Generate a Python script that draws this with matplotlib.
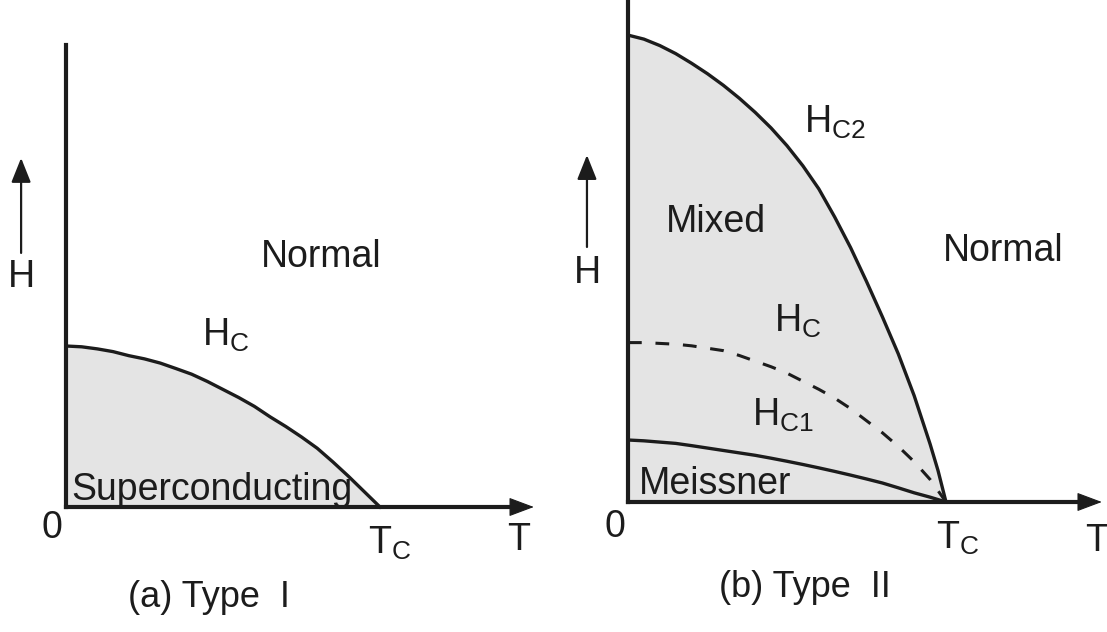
''' Phase diagrams of type I and type II superconductors (H vs T). '''

import matplotlib
matplotlib.use('Agg')
import matplotlib.pyplot as plt

# Values. T in units of Tc, H in units of Hc(0)
t_grid = [0.0, 0.05, 0.1, 0.15, 0.2, 0.25, 0.3, 0.35, 0.4, 0.45, 0.5,
          0.55, 0.6, 0.65, 0.7, 0.75, 0.8, 0.85, 0.9, 0.95, 1.0]

# (a) type I
hc_type1 = [1.0, 0.995, 0.982, 0.965, 0.94, 0.92, 0.894, 0.86, 0.825, 0.78, 0.73,
            0.68, 0.625, 0.56, 0.50, 0.435, 0.365, 0.28, 0.19, 0.095, 0.0]

# (b) type II
t_hc2 = [0.0, 0.05, 0.1, 0.15, 0.2, 0.25, 0.3, 0.35, 0.4, 0.45, 0.5,
         0.55, 0.6, 0.65, 0.7, 0.75, 0.8, 0.85, 0.9, 0.95, 0.975, 1.0]
hc2 = [2.90, 2.875, 2.835, 2.785, 2.725, 2.66, 2.588, 2.508, 2.42, 2.323, 2.213,
       2.088, 1.945, 1.77, 1.58, 1.37, 1.15, 0.92, 0.66, 0.36, 0.195, 0.0]
hc_type2 = [0.99, 0.99, 0.985, 0.98, 0.97, 0.955, 0.94, 0.91, 0.875, 0.84, 0.80,
            0.75, 0.70, 0.645, 0.58, 0.505, 0.43, 0.345, 0.25, 0.14, 0.0]
hc1 = [0.385, 0.38, 0.372, 0.364, 0.35, 0.335, 0.32, 0.305, 0.29, 0.272, 0.253,
       0.233, 0.212, 0.19, 0.167, 0.143, 0.118, 0.088, 0.057, 0.03, 0.0]

INK = '#1c1c1c'
FILL = '#e4e4e4'
FS = 27

plt.rcParams['font.family'] = ['Liberation Sans', 'DejaVu Sans']
plt.rcParams['mathtext.fontset'] = 'custom'
plt.rcParams['mathtext.rm'] = 'Liberation Sans'
plt.rcParams['mathtext.it'] = 'Liberation Sans:italic'
plt.rcParams['lines.solid_joinstyle'] = 'round'


def draw_axes(ax, h_top, h_arrow_x, h_arrow_y0, h_arrow_y1, h_label_y):
    # T axis with arrow head
    t_end = 1.49
    ax.plot([0, t_end - 0.03], [0, 0], color=INK, lw=3, solid_capstyle='projecting', zorder=5)
    ax.annotate('', xy=(t_end, 0), xytext=(t_end - 0.06, 0),
                arrowprops=dict(arrowstyle='-|>,head_length=0.8,head_width=0.3',
                                mutation_scale=20, lw=0.8, color=INK,
                                shrinkA=0, shrinkB=0), zorder=6)
    # H axis
    ax.plot([0, 0], [0, h_top], color=INK, lw=3, solid_capstyle='projecting', zorder=5)
    # little H arrow on the side
    ax.annotate('', xy=(h_arrow_x, h_arrow_y1), xytext=(h_arrow_x, h_arrow_y0),
                arrowprops=dict(arrowstyle='-|>,head_length=0.75,head_width=0.3',
                                mutation_scale=20, lw=1.6, color=INK,
                                shrinkA=0, shrinkB=0))
    ax.text(h_arrow_x, h_label_y, 'H', fontsize=FS, color=INK, ha='center', va='center')


def plot_type1(ax):
    ax.set_xlim(-0.2102, 1.5510)
    ax.set_ylim(-0.7764, 3.1491)
    ax.axis('off')
    ax.fill_between(t_grid, hc_type1, 0, color=FILL, lw=0, zorder=1)
    ax.plot(t_grid, hc_type1, color=INK, lw=2.4, zorder=3)
    draw_axes(ax, 2.87, -0.143, 1.578, 2.168, 1.43)

    ax.text(0.812, 1.553, 'Normal', fontsize=FS, color=INK, ha='center', va='center')
    ax.text(0.433, 1.0, r'H$_{\mathrm{C}}$', fontsize=FS, color=INK, ha='left', va='baseline')
    ax.text(0.016, 0.043, 'Superconducting', fontsize=FS, color=INK, ha='left',
            va='baseline', zorder=4)
    ax.text(-0.045, -0.13, '0', fontsize=FS, color=INK, ha='center', va='center')
    ax.text(0.962, -0.292, r'T$_{\mathrm{C}}$', fontsize=FS, color=INK, ha='left', va='baseline')
    ax.text(1.44, -0.205, 'T', fontsize=FS, color=INK, ha='center', va='center')
    ax.text(0.455, -0.565, '(a) Type  I', fontsize=FS - 1, color=INK, ha='center', va='center')


def plot_type2(ax):
    ax.set_xlim(-0.2358, 1.5063)
    ax.set_ylim(-0.8075, 3.1180)
    ax.axis('off')
    ax.fill_between(t_hc2, hc2, 0, color=FILL, lw=0, zorder=1)
    ax.plot(t_hc2, hc2, color=INK, lw=2.4, zorder=3)
    ax.plot(t_grid, hc_type2, color=INK, lw=2.2, linestyle=(0, (4.5, 4.5)), zorder=3)
    ax.plot(t_grid, hc1, color=INK, lw=2.4, zorder=3)
    draw_axes(ax, 3.3, -0.129, 1.584, 2.155, 1.422)

    ax.text(0.553, 2.292, r'H$_{\mathrm{C2}}$', fontsize=FS, color=INK, ha='left', va='baseline')
    ax.text(0.277, 1.739, 'Mixed', fontsize=FS, color=INK, ha='center', va='center')
    ax.text(1.179, 1.559, 'Normal', fontsize=FS, color=INK, ha='center', va='center')
    ax.text(0.459, 1.056, r'H$_{\mathrm{C}}$', fontsize=FS, color=INK, ha='left', va='baseline')
    ax.text(0.39, 0.472, r'H$_{\mathrm{C1}}$', fontsize=FS, color=INK, ha='left', va='baseline')
    ax.text(0.035, 0.05, 'Meissner', fontsize=FS, color=INK, ha='left', va='baseline', zorder=4)
    ax.text(-0.041, -0.155, '0', fontsize=FS, color=INK, ha='center', va='center')
    ax.text(0.97, -0.29, r'T$_{\mathrm{C}}$', fontsize=FS, color=INK, ha='left', va='baseline')
    ax.text(1.475, -0.242, 'T', fontsize=FS, color=INK, ha='center', va='center')
    ax.text(0.557, -0.528, '(b) Type  II', fontsize=FS - 1, color=INK, ha='center', va='center')


def main():
    fig = plt.figure(figsize=(11.07, 6.32), dpi=100)
    split = 553 / 1107
    ax1 = fig.add_axes([0, 0, split, 1])
    ax2 = fig.add_axes([split, 0, 1 - split, 1])
    plot_type1(ax1)
    plot_type2(ax2)
    fig.savefig('out.png', dpi=100, facecolor='white')


if __name__ == "__main__":
    main()
